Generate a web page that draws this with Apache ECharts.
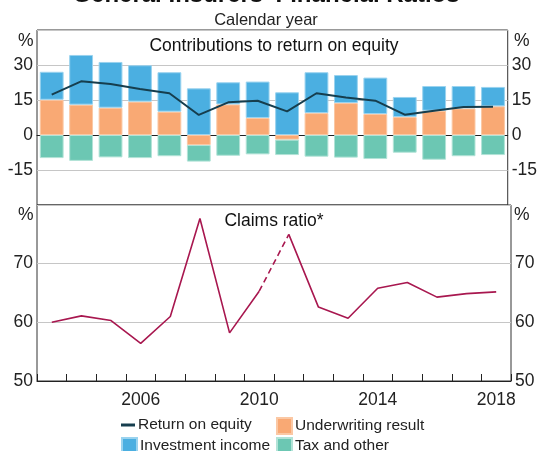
<!DOCTYPE html>
<html>
<head>
<meta charset="utf-8">
<script src="https://cdn.jsdelivr.net/npm/echarts@6/dist/echarts.min.js"></script>
<style>
html,body{margin:0;padding:0;background:#fff;}
#c{width:540px;height:451px;}
</style>
</head>
<body>
<div id="c"></div>
<script>
var years = ['2003','2004','2005','2006','2007','2008','2009','2010','2011','2012','2013','2014','2015','2016','2017','2018'];
var underwriting = [15.1, 13.0, 11.7, 14.3, 10.0, -4.3, 13.1, 7.3, -2.0, 9.4, 13.7, 9.0, 7.7, 10.4, 11.4, 12.3];
var investment   = [12.0, 21.3, 19.6, 15.6, 16.9, 20.0, 9.5, 15.6, 18.3, 17.5, 12.0, 15.6, 8.6, 10.6, 9.6, 8.3];
var taxOther     = [-9.9, -11.1, -9.6, -9.9, -9.1, -7.1, -8.9, -8.3, -6.6, -9.3, -9.7, -10.3, -7.6, -10.6, -9.1, -8.6];
var roe          = [17.3, 23.0, 21.9, 19.7, 17.9, 8.6, 14.0, 14.7, 10.1, 17.9, 16.1, 14.7, 8.7, 10.4, 12.0, 12.1];
var claimsRatio  = [60.0, 61.1, 60.3, 56.4, 61.0, 77.7, 58.2, 65.3, 75.0, 62.6, 60.7, 65.8, 66.8, 64.3, 64.9, 65.2];
var topTicks = [-30, -15, 0, 15, 30, 45];
var bottomTicks = [50, 60, 70, 80];

// split claims into solid / dashed (2010-2011) / solid parts
var claimsA = claimsRatio.map(function(v, i){ return i <= 7 ? v : null; });
var claimsB = claimsRatio.map(function(v, i){ return (i === 7 || i === 8) ? v : null; });
var claimsC = claimsRatio.map(function(v, i){ return i >= 8 ? v : null; });

var FONT = 'Liberation Sans, Arial, sans-serif';
var TXT = '#222';
var C_BLUE = '#4BAFE1', C_ORANGE = '#F9A974', C_GREEN = '#6CC7B3', C_ROE = '#163E4E', C_CLAIMS = '#A8174F';

var chart = echarts.init(document.getElementById('c'), null, {renderer: 'canvas'});

function yAx(grid, pos, min, max, interval, showSplit, hideMin) {
  return {
    type: 'value', gridIndex: grid, position: pos, min: min, max: max, interval: interval,
    axisLine: {show: false}, axisTick: {show: false},
    splitLine: {show: showSplit, lineStyle: {color: '#c6c6c6', width: 1}},
    axisLabel: {
      fontFamily: FONT, fontSize: 17.5, color: TXT, margin: 4,
      formatter: function(v){ return (v === max || (hideMin && v === min)) ? '' : String(v); }
    }
  };
}

var PLOT_CX = 274;
var LEG_FS = 15.5;

var option = {
  animation: false,
  textStyle: {fontFamily: FONT},
  graphic: [
    {type: 'text', x: 266, y: -17, style: {text: "General Insurers' Financial Ratios", font: 'bold 24px ' + FONT, fill: '#111', textAlign: 'center', textVerticalAlign: 'top'}},
    {type: 'text', x: 266, y: 12, style: {text: 'Calendar year', font: '16.5px ' + FONT, fill: TXT, textAlign: 'center', textVerticalAlign: 'top'}},
    {type: 'text', x: PLOT_CX, y: 37, style: {text: 'Contributions to return on equity', font: '17.5px ' + FONT, fill: '#111', textAlign: 'center', textVerticalAlign: 'top'}},
    {type: 'text', x: PLOT_CX, y: 212, style: {text: 'Claims ratio*', font: '17.5px ' + FONT, fill: '#111', textAlign: 'center', textVerticalAlign: 'top'}},
    {type: 'text', x: 18, y: 32, style: {text: '%', font: '17.5px ' + FONT, fill: TXT, textVerticalAlign: 'top'}},
    {type: 'text', x: 514, y: 32, style: {text: '%', font: '17.5px ' + FONT, fill: TXT, textVerticalAlign: 'top'}},
    {type: 'text', x: 18, y: 206, style: {text: '%', font: '17.5px ' + FONT, fill: TXT, textVerticalAlign: 'top'}},
    {type: 'text', x: 514, y: 206, style: {text: '%', font: '17.5px ' + FONT, fill: TXT, textVerticalAlign: 'top'}}
  ],
  legend: [
    {left: 121, top: 417, itemWidth: 14, itemHeight: 3, itemGap: 0, padding: 0,
     textStyle: {fontFamily: FONT, fontSize: LEG_FS, color: TXT, padding: [0,0,0,-2]},
     data: [{name: 'Return on equity', icon: 'rect', itemStyle: {color: C_ROE}}]},
    {left: 276, top: 417, itemWidth: 15, itemHeight: 16, itemGap: 0, padding: 0,
     textStyle: {fontFamily: FONT, fontSize: LEG_FS, color: TXT, padding: [0,0,0,-2]},
     data: [{name: 'Underwriting result', icon: 'rect'}]},
    {left: 121, top: 437, itemWidth: 15, itemHeight: 16, itemGap: 0, padding: 0,
     textStyle: {fontFamily: FONT, fontSize: LEG_FS, color: TXT, padding: [0,0,0,-2]},
     data: [{name: 'Investment income', icon: 'rect'}]},
    {left: 276, top: 437, itemWidth: 15, itemHeight: 16, itemGap: 0, padding: 0,
     textStyle: {fontFamily: FONT, fontSize: LEG_FS, color: TXT, padding: [0,0,0,-2]},
     data: [{name: 'Tax and other', icon: 'rect'}]}
  ],
  grid: [
    {left: 37, right: 29, top: 30, height: 175, show: true, borderColor: '#333', borderWidth: 1, backgroundColor: 'transparent'},
    {left: 37, right: 29, top: 205, height: 176, show: true, borderColor: '#333', borderWidth: 1, backgroundColor: 'transparent'}
  ],
  xAxis: [
    {type: 'category', gridIndex: 0, data: years, boundaryGap: true,
     axisLine: {show: true, onZero: true, lineStyle: {color: '#222', width: 1}},
     axisTick: {show: false}, axisLabel: {show: false}, splitLine: {show: false}},
    {type: 'category', gridIndex: 1, data: years, boundaryGap: true,
     axisLine: {show: true, onZero: false, lineStyle: {color: '#222', width: 1}},
     axisTick: {show: true, inside: true, length: 7, interval: 0, lineStyle: {color: '#222'}},
     axisLabel: {fontFamily: FONT, fontSize: 17.5, color: TXT, margin: 10,
       interval: function(i, v){ return (parseInt(v, 10) - 2002) % 4 === 0; }},
     splitLine: {show: false}}
  ],
  yAxis: [
    yAx(0, 'left', topTicks[0], topTicks[topTicks.length-1], 15, true, true),
    yAx(0, 'right', topTicks[0], topTicks[topTicks.length-1], 15, false, true),
    yAx(1, 'left', bottomTicks[0], bottomTicks[bottomTicks.length-1], 10, true, false),
    yAx(1, 'right', bottomTicks[0], bottomTicks[bottomTicks.length-1], 10, false, false)
  ],
  series: [
    {name: 'Underwriting result', type: 'bar', xAxisIndex: 0, yAxisIndex: 0, stack: 'roe', data: underwriting,
     barCategoryGap: '19%', itemStyle: {color: C_ORANGE, borderColor: '#FBC8A4', borderWidth: 1}},
    {name: 'Investment income', type: 'bar', xAxisIndex: 0, yAxisIndex: 0, stack: 'roe', data: investment,
     barCategoryGap: '19%', itemStyle: {color: C_BLUE, borderColor: '#9AD3EF', borderWidth: 1}},
    {name: 'Tax and other', type: 'bar', xAxisIndex: 0, yAxisIndex: 0, stack: 'roe', data: taxOther,
     barCategoryGap: '19%', itemStyle: {color: C_GREEN, borderColor: '#B2E3D7', borderWidth: 1}},
    {name: 'Return on equity', type: 'line', xAxisIndex: 0, yAxisIndex: 0, data: roe, z: 5,
     symbol: 'none', lineStyle: {color: C_ROE, width: 2}, itemStyle: {color: C_ROE}},
    {name: 'Claims ratio', type: 'line', xAxisIndex: 1, yAxisIndex: 2, data: claimsA, connectNulls: false,
     symbol: 'none', lineStyle: {color: C_CLAIMS, width: 1.6}},
    {name: 'Claims ratio (break)', type: 'line', xAxisIndex: 1, yAxisIndex: 2, data: claimsB, connectNulls: false,
     symbol: 'none', lineStyle: {color: C_CLAIMS, width: 1.6, type: [6, 4]}},
    {name: 'Claims ratio (after)', type: 'line', xAxisIndex: 1, yAxisIndex: 2, data: claimsC, connectNulls: false,
     symbol: 'none', lineStyle: {color: C_CLAIMS, width: 1.6}}
  ]
};
chart.setOption(option);
</script>
</body>
</html>
